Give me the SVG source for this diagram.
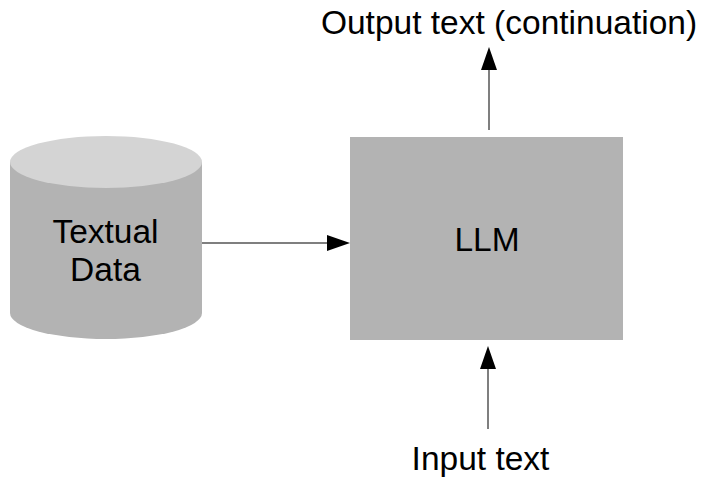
<svg xmlns="http://www.w3.org/2000/svg" width="702" height="477" viewBox="0 0 702 477">
<style>
.lbl{font-family:"Liberation Sans",Arial,sans-serif;font-size:33.5px;fill:#000;text-anchor:middle}
.edge{stroke:#555;stroke-width:1.5;fill:none}
.head{fill:#000}
</style>
<rect width="702" height="477" fill="#fff"/>
<g id="textual-data">
<path d="M10,162 L10,313 A96,26 0 0 0 202,313 L202,162 Z" fill="#b3b3b3"/>
<ellipse cx="106" cy="162" rx="96" ry="26" fill="#d4d4d4"/>
<text class="lbl" x="105.5" y="243">Textual</text>
<text class="lbl" x="105.5" y="281">Data</text>
</g>
<g id="llm">
<rect x="350" y="137" width="273" height="203" fill="#b3b3b3"/>
<text class="lbl" x="487" y="251">LLM</text>
</g>
<g id="output-text">
<text class="lbl" x="509" y="34">Output text (continuation)</text>
</g>
<g id="input-text">
<text class="lbl" x="480.5" y="470">Input text</text>
</g>
<g id="connectors">
<line class="edge" x1="202" y1="243" x2="328" y2="243"/>
<polygon class="head" points="350,243 327,235 327,251"/>
<line class="edge" x1="489" y1="130" x2="489" y2="68"/>
<polygon class="head" points="489,47 481,70 497,70"/>
<line class="edge" x1="488" y1="429" x2="488" y2="368"/>
<polygon class="head" points="488,346 480,369 496,369"/>
</g>
</svg>
